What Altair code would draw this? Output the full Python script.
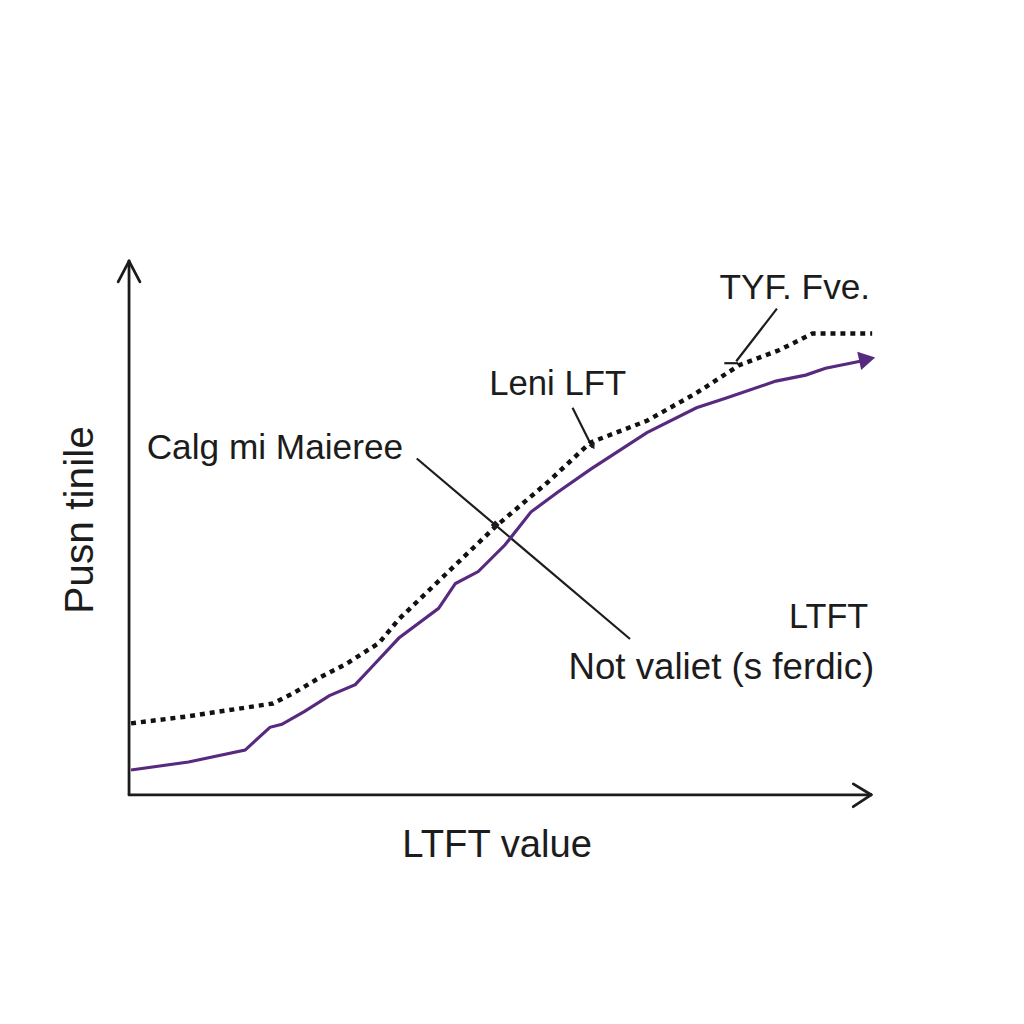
import altair as alt
import pandas as pd

# ---- series (data units: x 0-100, y 0-100) ----
solid_x = [0.27, 8.03, 15.66, 19.01, 20.62, 23.69, 27.04, 30.52, 32.66, 36.41, 41.77, 44.04,
           47.12, 50.74, 54.22, 57.83, 62.25, 69.88, 76.57, 80.59, 87.28, 91.30, 93.98, 98.66]
solid_y = [4.67, 6.17, 8.41, 12.71, 13.27, 15.70, 18.69, 20.75, 23.93, 29.53, 35.14, 39.81,
           42.06, 47.10, 53.27, 57.01, 61.31, 68.22, 72.90, 74.77, 77.94, 79.07, 80.37, 81.68]

dotted_x = [0.27, 7.90, 19.41, 22.09, 25.70, 29.32, 33.73, 36.41, 43.11, 49.40, 56.49, 62.25,
            69.88, 76.57, 82.33, 87.68, 92.24, 100.27]
dotted_y = [13.46, 14.77, 17.20, 19.07, 22.06, 24.67, 28.60, 33.08, 42.06, 50.47, 58.88, 66.36,
            70.47, 75.70, 80.93, 83.74, 86.92, 86.92]

# ---- axis arrows ----
axis_x1 = [0, 0, 0, 0, 100.13, 100.13]
axis_y1 = [0, 100.56, 100.56, 0, 0, 0]
axis_x2 = [0, -1.47, 1.47, 100.13, 97.72, 97.72]
axis_y2 = [100.56, 96.64, 96.64, 0, 2.06, -2.24]

# ---- annotation pointer lines ----
ann_x1 = [38.82, 59.84, 87.42, 80.32]
ann_y1 = [63.36, 72.90, 91.59, 81.31]
ann_x2 = [67.60, 62.52, 81.93, 82.20]
ann_y2 = [29.35, 65.42, 81.68, 81.31]

# ---- texts ----
text_labels = ["Calg mi Maieree", "Leni LFT", "TYF. Fve.", "LTFT", "Not valiet (s ferdic)", "LTFT value"]
text_x = [19.68, 57.83, 89.83, 94.40, 79.92, 49.67]
text_y = [63.18, 75.33, 93.46, 31.40, 21.87, -11.78]
text_size = [35.5, 35, 35.5, 34.5, 37, 38.5]

ylabel = ["Pusn tinile"]
ylabel_x = [-4.82]
ylabel_y = [51.78]

# arrow heads
head_x = [99.6]
head_y = [82.06]
blob_x = [49.40]
blob_y = [50.84]
small_head_x = [62.6]
small_head_y = [65.6]

xs = alt.Scale(domain=[0, 100], nice=False, zero=False)
ys = alt.Scale(domain=[0, 100], nice=False, zero=False)

def X(f):
    return alt.X(f, type="quantitative", scale=xs, axis=None)

def Y(f):
    return alt.Y(f, type="quantitative", scale=ys, axis=None)

solid_df = pd.DataFrame({"x": solid_x, "y": solid_y, "i": range(len(solid_x))})
dotted_df = pd.DataFrame({"x": dotted_x, "y": dotted_y, "i": range(len(dotted_x))})
axis_df = pd.DataFrame({"x": axis_x1, "y": axis_y1, "x2": axis_x2, "y2": axis_y2})
ann_df = pd.DataFrame({"x": ann_x1, "y": ann_y1, "x2": ann_x2, "y2": ann_y2})
text_df = pd.DataFrame({"t": text_labels, "x": text_x, "y": text_y, "s": text_size})
ylab_df = pd.DataFrame({"t": ylabel, "x": ylabel_x, "y": ylabel_y})

PURPLE = "#57297f"
INK = "#1c1c1c"

axes = alt.Chart(axis_df).mark_rule(color=INK, strokeWidth=2.8, strokeCap="round").encode(
    x=X("x"), y=Y("y"), x2="x2", y2="y2")

ann = alt.Chart(ann_df).mark_rule(color=INK, strokeWidth=2.2).encode(
    x=X("x"), y=Y("y"), x2="x2", y2="y2")

dotted = alt.Chart(dotted_df).mark_line(
    color="#111111", strokeWidth=4.5, strokeDash=[5, 5], strokeCap="butt", interpolate="linear"
).encode(x=X("x"), y=Y("y"), order="i:Q")

solid = alt.Chart(solid_df).mark_line(
    color=PURPLE, strokeWidth=3.2, interpolate="linear"
).encode(x=X("x"), y=Y("y"), order="i:Q")

head = alt.Chart(pd.DataFrame({"x": head_x, "y": head_y})).mark_point(
    shape="triangle-right", filled=True, color=PURPLE, size=360, angle=348, opacity=1
).encode(x=X("x"), y=Y("y"))

blob = alt.Chart(pd.DataFrame({"x": blob_x, "y": blob_y})).mark_point(
    shape="diamond", filled=True, color=INK, size=80, opacity=1
).encode(x=X("x"), y=Y("y"))

small_head = alt.Chart(pd.DataFrame({"x": small_head_x, "y": small_head_y})).mark_point(
    shape="triangle-down", filled=True, color=INK, size=50, angle=333, opacity=1
).encode(x=X("x"), y=Y("y"))

texts = alt.Chart(text_df).mark_text(
    font="Liberation Sans", color=INK, align="center", baseline="alphabetic"
).encode(x=X("x"), y=Y("y"), text="t:N", size=alt.Size("s:Q", scale=None, legend=None))

ylab = alt.Chart(ylab_df).mark_text(
    font="Liberation Sans", color=INK, align="center", baseline="alphabetic",
    angle=270, fontSize=41
).encode(x=X("x"), y=Y("y"), text="t:N")

chart = alt.layer(axes, ann, dotted, solid, head, blob, small_head, texts, ylab).properties(
    width=747, height=535,
    padding={"left": 122, "top": 254, "right": 147, "bottom": 227},
    autosize=alt.AutoSizeParams(type="none"),
    background="white",
).configure_view(stroke=None)

chart.save("out.html", embed_options={"renderer": "svg", "actions": False})
